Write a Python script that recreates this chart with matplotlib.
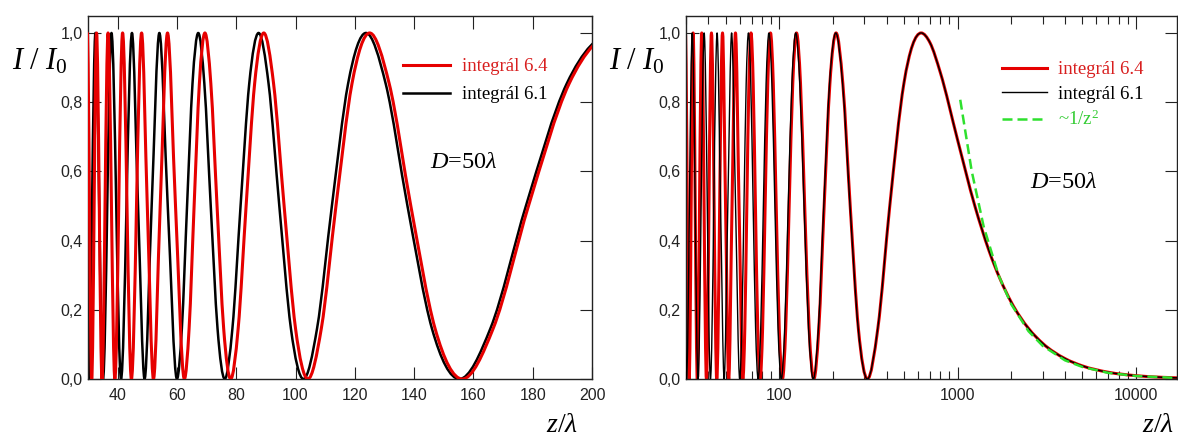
import numpy as np
import matplotlib.pyplot as plt
from matplotlib.path import Path
from matplotlib.patches import PathPatch
from matplotlib.lines import Line2D
from matplotlib.ticker import FuncFormatter, FixedLocator, LogLocator, NullFormatter

plt.rcParams['mathtext.fontset'] = 'custom'
plt.rcParams['mathtext.rm'] = 'Liberation Serif'
plt.rcParams['mathtext.it'] = 'Liberation Serif:italic'

# points: zeros, maxima and intermediate levels (z in units of lambda)
red_z = [28.41, 29.76, 31.25, 32.89, 34.72, 36.76, 39.06, 41.67, 44.64, 48.08, 50.0, 52.08,
         54.35, 56.82, 59.52, 62.5, 64.10, 65.79, 67.57, 69.44, 71.43, 73.53, 75.76, 78.13,
         80.65, 83.33, 86.21, 89.29, 92.59, 96.15, 100.0, 104.17, 108.70, 113.64, 119.05, 125.0,
         131.58, 138.89, 147.06, 156.25, 166.67, 178.57, 192.31, 208.33, 227.27, 250.0, 277.78,
         312.5, 357.14, 416.67, 500.0, 625.0]
red_i = [0, 1, 0, 1, 0, 1, 0, 1, 0, 1, 0.5, 0,
         0.5, 1, 0.5, 0, 0.146, 0.5, 0.854, 1, 0.854, 0.5, 0.146, 0,
         0.146, 0.5, 0.854, 1, 0.854, 0.5, 0.146, 0, 0.146, 0.5, 0.854, 1,
         0.854, 0.5, 0.146, 0, 0.146, 0.5, 0.854, 1, 0.854, 0.5, 0.146,
         0, 0.146, 0.5, 0.854, 1]

black_z = [26.25, 28.14, 30.22, 32.51, 35.06, 37.92, 41.14, 44.83, 46.88, 49.08, 51.47, 54.07,
           56.90, 60.0, 61.66, 63.41, 65.25, 67.19, 69.24, 71.40, 73.69, 76.13,
           78.71, 81.46, 84.39, 87.54, 90.90, 94.53, 98.44, 102.67, 107.26, 112.26, 117.74, 123.75,
           130.39, 137.76, 146.00, 155.25, 165.73, 177.70, 191.50, 207.58, 226.59, 249.38, 277.21,
           312.0, 356.70, 416.29, 499.69, 624.75]
black_i = [0, 1, 0, 1, 0, 1, 0, 1, 0.5, 0, 0.5, 1,
           0.5, 0, 0.146, 0.5, 0.854, 1, 0.854, 0.5, 0.146, 0,
           0.146, 0.5, 0.854, 1, 0.854, 0.5, 0.146, 0, 0.146, 0.5, 0.854, 1,
           0.854, 0.5, 0.146, 0, 0.146, 0.5, 0.854, 1, 0.854, 0.5, 0.146,
           0, 0.146, 0.5, 0.854, 1]

# far-field tail (both integrals coincide here)
tail_z = [700, 800, 1000, 1250, 1500, 2000, 2500, 3000, 4000, 5000, 7000, 10000, 14000, 20000]
tail_i = [0.972, 0.886, 0.691, 0.5, 0.371, 0.222, 0.146, 0.103, 0.059, 0.038, 0.0195, 0.0096, 0.0049, 0.0024]

# ~1/z^2 asymptote
green_z = [1035, 1200, 1400, 1700, 2000, 2500, 3000, 4000, 5000, 7000, 10000, 17000]
green_i = [0.807, 0.601, 0.441, 0.299, 0.216, 0.138, 0.096, 0.054, 0.035, 0.0177, 0.0087, 0.0030]

RED = '#e60000'
GREEN = '#2ee02e'


def smooth_path(z, i, log_x):
    # smooth curve through the points as Bezier segments (flat at maxima and zeros)
    u = np.log10(z) if log_x else np.asarray(z, float)
    y = np.asarray(i, float)
    h = np.diff(u)
    d = np.diff(y) / h
    m = np.zeros_like(y)
    for k in range(1, len(y) - 1):
        if d[k - 1] * d[k] > 0:
            m[k] = (h[k] * d[k - 1] + h[k - 1] * d[k]) / (h[k - 1] + h[k])
    m[-1] = d[-1]
    verts = [(u[0], y[0])]
    codes = [Path.MOVETO]
    for k in range(len(h)):
        verts += [(u[k] + h[k] / 3, y[k] + m[k] * h[k] / 3),
                  (u[k + 1] - h[k] / 3, y[k + 1] - m[k + 1] * h[k] / 3),
                  (u[k + 1], y[k + 1])]
        codes += [Path.CURVE4] * 3
    verts = np.array(verts)
    if log_x:
        verts[:, 0] = 10 ** verts[:, 0]
    return Path(verts, codes)


def draw_curve(ax, z, i, log_x, color, lw, zorder):
    patch = PathPatch(smooth_path(z, i, log_x), facecolor='none', edgecolor=color,
                      lw=lw, capstyle='round', joinstyle='round', zorder=zorder)
    ax.add_patch(patch)


def style_axis(ax):
    ax.set_ylim(0, 1.049)
    ax.set_yticks([0, 0.2, 0.4, 0.6, 0.8, 1.0])
    ax.yaxis.set_major_formatter(FuncFormatter(lambda v, p: f"{v:.1f}".replace('.', ',')))
    ax.tick_params(which='both', direction='in', top=True, right=True, colors='#222222',
                   labelsize=11.5, width=0.8)
    ax.tick_params(which='major', length=9)
    ax.tick_params(which='minor', length=6)
    ax.tick_params(axis='x', pad=6.5)
    ax.tick_params(axis='y', pad=4)
    for lab in ax.get_xticklabels() + ax.get_yticklabels():
        lab.set_fontfamily('Liberation Sans')
    for s in ax.spines.values():
        s.set_linewidth(1.0)
        s.set_color('#222222')


red_all_z = red_z + tail_z
red_all_i = red_i + tail_i
black_all_z = black_z + tail_z
black_all_i = black_i + tail_i

fig = plt.figure(figsize=(11.78, 4.41), dpi=100)
W, H = 1178, 441
ax1 = fig.add_axes([88 / W, 1 - 379 / H, 504 / W, 363 / H])
ax2 = fig.add_axes([686 / W, 1 - 379 / H, 491 / W, 363 / H])

# left: linear axis
draw_curve(ax1, black_all_z, black_all_i, False, 'black', 1.8, 2)
draw_curve(ax1, red_all_z, red_all_i, False, RED, 2.2, 3)
ax1.set_xlim(30, 200)
ax1.set_xticks([40, 60, 80, 100, 120, 140, 160, 180, 200])
style_axis(ax1)

# right: logarithmic axis
ax2.set_xscale('log')
draw_curve(ax2, red_all_z, red_all_i, True, RED, 2.2, 2)
draw_curve(ax2, black_all_z, black_all_i, True, 'black', 1.0, 3)
ax2.plot(green_z, green_i, color=GREEN, lw=1.8, dashes=(4, 2), zorder=4)
ax2.set_xlim(30, 17000)
ax2.xaxis.set_major_locator(FixedLocator([100, 1000, 10000]))
ax2.xaxis.set_major_formatter(FuncFormatter(lambda v, p: f"{int(round(v))}"))
ax2.xaxis.set_minor_locator(LogLocator(base=10, subs=np.arange(2, 10)))
ax2.xaxis.set_minor_formatter(NullFormatter())
style_axis(ax2)

# legends
leg_font = {'family': 'Liberation Serif', 'size': 13.5}
h1 = [Line2D([], [], color=RED, lw=2.2), Line2D([], [], color='black', lw=1.8)]
leg1 = ax1.legend(h1, ['integrál 6.4', 'integrál 6.1'], loc='upper left',
                  bbox_to_anchor=(0.625, 0.884), frameon=False, prop=leg_font,
                  handlelength=2.5, handletextpad=0.64, labelspacing=0.58,
                  borderpad=0, borderaxespad=0)
for t, c in zip(leg1.get_texts(), ['#d81e1e', 'black']):
    t.set_color(c)

h2 = [Line2D([], [], color=RED, lw=2.2), Line2D([], [], color='black', lw=1.0),
      Line2D([], [], color=GREEN, lw=1.8, dashes=(4, 2))]
leg2 = ax2.legend(h2, ['integrál 6.4', 'integrál 6.1', r'~1/z$^{2}$'], loc='upper left',
                  bbox_to_anchor=(0.6436, 0.876), frameon=False, prop=leg_font,
                  handlelength=2.4, handletextpad=0.6, labelspacing=0.39,
                  borderpad=0, borderaxespad=0)
for t, c in zip(leg2.get_texts(), ['#d81e1e', 'black', '#33cc33']):
    t.set_color(c)

# annotations
serif = 'Liberation Serif'
for x_px in (12, 609):
    fig.text(x_px / W, 1 - 62 / H, r'$I\ /\ I_0$', fontsize=22, ha='left', va='center',
             family=serif)
for x_px in (578, 1174):
    fig.text(x_px / W, 1 - 426 / H, r'$z/\lambda$', fontsize=20, ha='right', va='center',
             family=serif)
fig.text(430 / W, 1 - 163 / H, r'$D$=50$\lambda$', fontsize=17.5, ha='left', va='center',
         family=serif)
fig.text(1030 / W, 1 - 182 / H, r'$D$=50$\lambda$', fontsize=17.5, ha='left', va='center',
         family=serif)

fig.savefig('out.png', dpi=100)
